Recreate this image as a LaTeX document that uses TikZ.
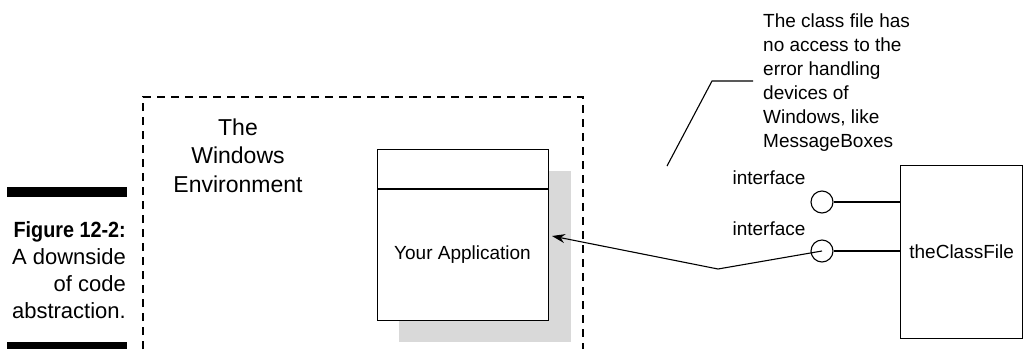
\documentclass[tikz,border=0pt]{standalone}
\usepackage{fontspec}
\setmainfont{Liberation Sans}
\newfontfamily\narrowsans{Liberation Sans}[FakeStretch=0.9]
\usetikzlibrary{arrows.meta,positioning,calc}
\definecolor{shadowgray}{HTML}{D9D9D9}
\tikzset{
  boxline/.style={draw=black,line width=1.3pt,inner sep=0pt},
  ifacering/.style={circle,draw=black,line width=1.1pt,minimum size=22pt,inner sep=0pt},
  wire/.style={line width=1.1pt},
  bigtext/.style={font=\fontsize{23}{28.5}\selectfont},
  midtext/.style={font=\fontsize{19}{24}\selectfont},
}

\begin{document}
\begin{tikzpicture}[x=1pt,y=-1pt]
    \useasboundingbox (0,0) rectangle (1023,349);
    % caption with its two bars
    \fill (7,187) rectangle (127,197);
    \fill (7,342) rectangle (127,349);
    \node[anchor=base east,align=right,inner sep=0pt,font=\fontsize{22}{27}\selectfont] (caption) at (126,318)
        {{\narrowsans\bfseries Figure 12-2:}\\A downside\\of code\\abstraction.};
    % the Windows environment
    \draw[line width=1.1pt,dash pattern=on 8pt off 6pt] (143,349) -- (143,97) -- (583,97) -- (583,349);
    \node[bigtext,anchor=base,align=center,inner sep=0pt] (envtext) at (238,192) {The\\Windows\\Environment};
    % the application with its shadow
    \fill[shadowgray] (399,171) rectangle (571,342);
    \node[boxline,fill=white,anchor=north west,minimum width=171pt,minimum height=171pt] (app) at (377,149) {};
    \draw[line width=1.3pt] (app.north west) ++(0,40) -- ++(171,0);
    \node[midtext,anchor=base] (apptext) at (462.5,259) {Your Application};
    % the class file and its interfaces
    \node[boxline,anchor=north west,minimum width=122pt,minimum height=173pt] (classbox) at (900,165) {};
    \node[midtext] (classtext) at (classbox.center) {theClassFile};
    \node[ifacering] (ifaceA) at (822,202) {};
    \node[ifacering] (ifaceB) at (822,251) {};
    \node[midtext,anchor=base] (ifaceAtext) at (769,184) {interface};
    \node[midtext,anchor=base] (ifaceBtext) at (769,235) {interface};
    \draw[wire] (ifaceA.east) -- (ifaceA.east -| classbox.west);
    \draw[wire] (ifaceB.east) -- (ifaceB.east -| classbox.west);
    \coordinate (kink) at (718,269);
    \coordinate (apptip) at (552,236);
    \draw[wire,-{Stealth[length=13pt,width=9pt]}] (ifaceB.center) -- (kink) -- (apptip);
    % note on the missing access
    \node[midtext,anchor=base west,align=left,inner sep=0pt] (note) at (763,147)
        {The class file has\\no access to the\\error handling\\devices of\\Windows, like\\MessageBoxes};
    \coordinate (notefoot) at (667,166);
    \coordinate (notebend) at (712,81);
    \coordinate (noteend) at (753,81);
    \draw[wire] (notefoot) -- (notebend) -- (noteend);
\end{tikzpicture}
\end{document}
